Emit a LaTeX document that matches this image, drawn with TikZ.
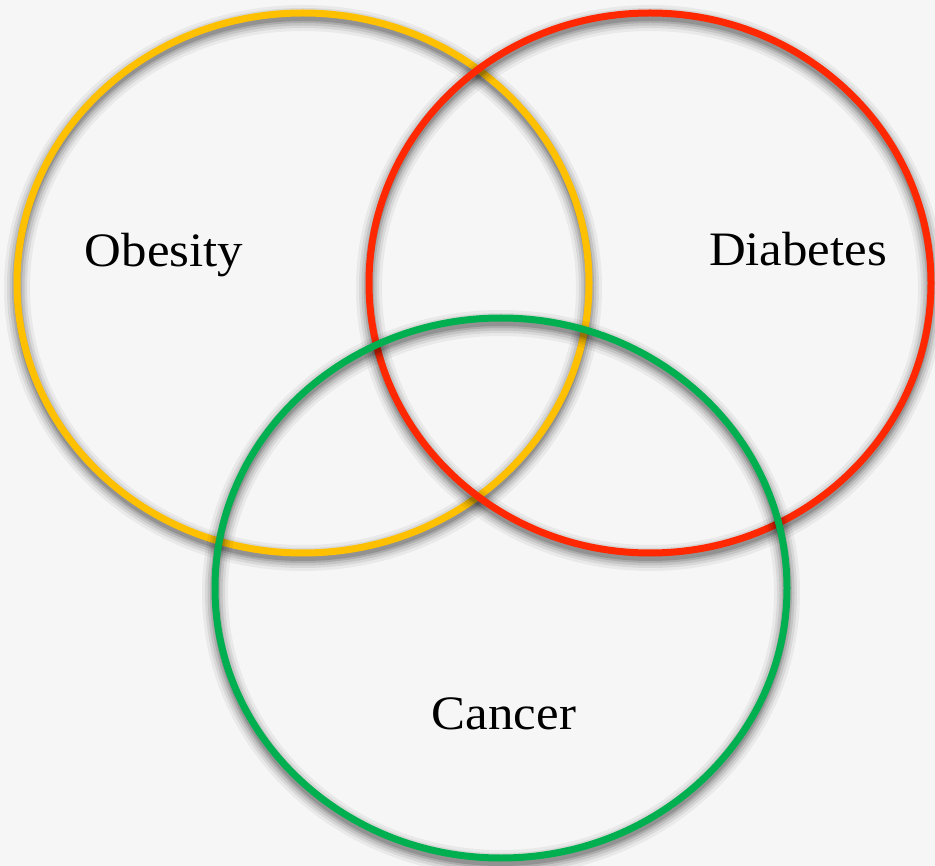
\documentclass[tikz,border=0pt]{standalone}
\usepackage{fontspec}
\setmainfont{Liberation Serif}[FakeStretch=1.06]
\definecolor{bgc}{RGB}{246,246,246}
\definecolor{yel}{RGB}{255,192,0}
\definecolor{redc}{RGB}{255,40,0}
\definecolor{grn}{RGB}{0,176,80}
\tikzset{
  ring/.style={line width=7pt, draw=#1},
  label/.style={anchor=base, font=\fontsize{48}{58}\selectfont, text=black, inner sep=0pt}
}
\newcommand{\shadowring}[4]{%
  \foreach \w/\o in {26/0.05, 20/0.07, 15/0.09, 10/0.12, 6/0.15}
    \draw[line width=\w pt, black, opacity=\o] (#1,#2+5) ellipse ({#3} and {#4});
}
\begin{document}
\begin{tikzpicture}[x=1pt,y=-1pt]
  \fill[bgc] (0,0) rectangle (935,866);
  \useasboundingbox (0,0) rectangle (935,866);
  \clip (0,0) rectangle (935,866);
  % Obesity
  \shadowring{303}{283}{286}{270}
  \draw[ring=yel] (303,283) ellipse (286 and 270);
  % Diabetes
  \shadowring{650}{283}{281}{270}
  \draw[ring=redc] (650,283) ellipse (281 and 270);
  % Cancer
  \shadowring{501}{588}{286}{270}
  \draw[ring=grn] (501,588) ellipse (286 and 270);
  \node[label] (obesity) at (164,267) {Obesity};
  \node[label] (diabetes) at (798,266) {Diabetes};
  \node[label] (cancer) at (504,729) {Cancer};
\end{tikzpicture}
\end{document}
